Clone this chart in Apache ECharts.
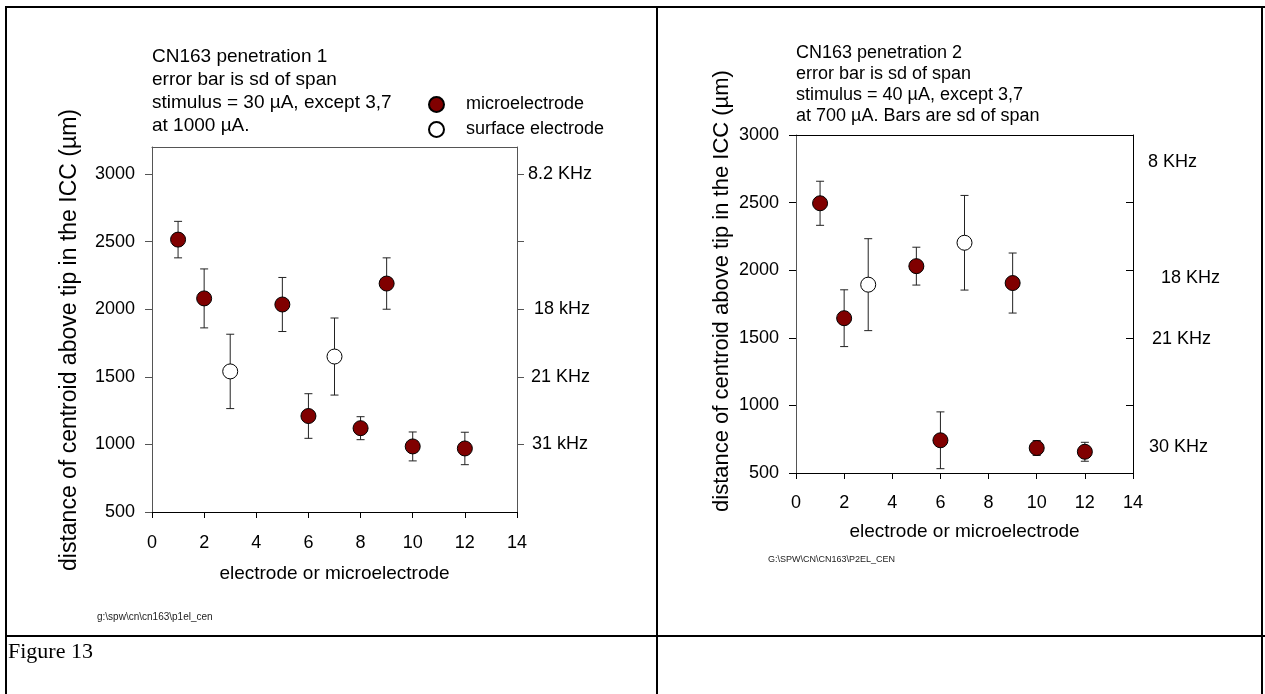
<!DOCTYPE html>
<html>
<head>
<meta charset="utf-8">
<script src="https://cdn.jsdelivr.net/npm/echarts@6/dist/echarts.min.js"></script>
<style>
  html, body { margin: 0; padding: 0; background: #fff; }
  #chart { width: 1265px; height: 694px; }
</style>
</head>
<body>
<div id="chart"></div>
<script>
// Penetration 1: electrode number, centroid distance (µm), sd of span, electrode kind
const p1Electrode = [1, 2, 3, 5, 6, 7, 8, 9, 10, 12];
const p1Mean      = [2515, 2080, 1540, 2035, 1210, 1650, 1120, 2190, 985, 970];
const p1Sd        = [135, 218, 275, 200, 165, 285, 85, 190, 107, 120];
const p1Kind      = ['micro', 'micro', 'surface', 'micro', 'micro', 'surface', 'micro', 'micro', 'micro', 'micro'];

// Penetration 2
const p2Electrode = [1, 2, 3, 5, 6, 7, 9, 10, 12];
const p2Mean      = [2495, 1645, 1893, 2030, 742, 2203, 1905, 685, 657];
const p2Sd        = [163, 210, 340, 140, 210, 350, 222, 55, 70];
const p2Kind      = ['micro', 'micro', 'surface', 'micro', 'micro', 'surface', 'micro', 'micro', 'micro'];

// Axis ticks
const xTicks        = [0, 2, 4, 6, 8, 10, 12, 14];
const p1DistTicks   = [500, 1000, 1500, 2000, 2500, 3000];
const p2DistTicks   = [500, 1000, 1500, 2000, 2500, 3000];

// Best-frequency annotations on the right-hand axes
const p1FreqTicks   = [1000, 1500, 2000, 2500, 3000];
const p1FreqAt      = [3000, 2000, 1500, 1000];
const p1FreqLabels  = ['8.2 KHz', '18 kHz', '21 KHz', '31 kHz'];
const p2FreqTicks   = [1000, 1500, 2000, 2500];
const p2FreqAt      = [2800, 1940, 1490, 690];
const p2FreqLabels  = ['8 KHz', '18 KHz', '21 KHz', '30 KHz'];

const FONT = 'Liberation Sans, Arial, sans-serif';
const MAROON = '#800000';

function pointsOf(xs, ys, kinds, kind) {
  const out = [];
  xs.forEach((x, i) => { if (kinds[i] === kind) out.push([x, ys[i]]); });
  return out;
}
function barsOf(xs, ys, sds) {
  return xs.map((x, i) => [x, ys[i] - sds[i], ys[i] + sds[i]]);
}

// vertical error bar with short caps
function renderErrorBar(params, api) {
  const x = api.value(0);
  const lo = api.coord([x, api.value(1)]);
  const hi = api.coord([x, api.value(2)]);
  const hw = 4;
  const st = { stroke: '#222', lineWidth: 1 };
  return {
    type: 'group',
    children: [
      { type: 'line', shape: { x1: lo[0], y1: lo[1], x2: hi[0], y2: hi[1] }, style: st },
      { type: 'line', shape: { x1: hi[0] - hw, y1: hi[1], x2: hi[0] + hw, y2: hi[1] }, style: st },
      { type: 'line', shape: { x1: lo[0] - hw, y1: lo[1], x2: lo[0] + hw, y2: lo[1] }, style: st }
    ]
  };
}

function freqFormatter(values, labels) {
  return function (v) {
    const i = values.indexOf(v);
    return i < 0 ? '' : '{f' + i + '|' + labels[i] + '}';
  };
}
function richPads(offsets, size) {
  const r = {};
  offsets.forEach((o, i) => { r['f' + i] = { fontFamily: FONT, fontSize: size, color: '#000', padding: [0, 0, 0, o] }; });
  return r;
}
const plain = v => String(v);

const baseLabel = { color: '#000', fontFamily: FONT, fontSize: 18, formatter: plain };

const chart = echarts.init(document.getElementById('chart'), null, { renderer: 'canvas' });

const option = {
  backgroundColor: '#fff',
  animation: false,
  grid: [
    { left: 152, top: 147, width: 365, height: 365, outerBoundsMode: 'none', containLabel: false },
    { left: 796, top: 135, width: 337, height: 338, outerBoundsMode: 'none', containLabel: false }
  ],
  legend: {
    orient: 'vertical',
    left: 423, top: 89,
    itemWidth: 15, itemHeight: 15, itemGap: 4,
    icon: 'circle',
    selectedMode: false,
    data: ['microelectrode', 'surface electrode'],
    textStyle: { color: '#000', fontFamily: FONT, fontSize: 18, lineHeight: 21, padding: [0, 0, 0, 17] }
  },
  xAxis: [
    {
      gridIndex: 0, type: 'value', position: 'bottom', min: 0, max: 14, interval: 2,
      name: 'electrode or microelectrode', nameLocation: 'middle', nameGap: 52,
      nameTextStyle: { color: '#000', fontFamily: FONT, fontSize: 19 },
      axisLine: { onZero: false, lineStyle: { color: '#000', width: 1 } },
      axisTick: { show: true, length: 6, lineStyle: { color: '#000' }, customValues: xTicks },
      axisLabel: Object.assign({ margin: 22, customValues: xTicks }, baseLabel),
      splitLine: { show: false }
    },
    {
      gridIndex: 0, type: 'value', position: 'top', min: 0, max: 14,
      axisLine: { show: true, onZero: false, lineStyle: { color: '#555', width: 1 } },
      axisTick: { show: false }, axisLabel: { show: false }, splitLine: { show: false }
    },
    {
      gridIndex: 1, type: 'value', position: 'bottom', min: 0, max: 14, interval: 2,
      name: 'electrode or microelectrode', nameLocation: 'middle', nameGap: 49,
      nameTextStyle: { color: '#000', fontFamily: FONT, fontSize: 19 },
      axisLine: { onZero: false, lineStyle: { color: '#000', width: 1 } },
      axisTick: { show: true, length: 6, lineStyle: { color: '#000' }, customValues: xTicks },
      axisLabel: Object.assign({ margin: 21, customValues: xTicks }, baseLabel),
      splitLine: { show: false }
    },
    {
      gridIndex: 1, type: 'value', position: 'top', min: 0, max: 14,
      axisLine: { show: true, onZero: false, lineStyle: { color: '#000', width: 1 } },
      axisTick: { show: false }, axisLabel: { show: false }, splitLine: { show: false }
    }
  ],
  yAxis: [
    {
      gridIndex: 0, type: 'value', position: 'left', min: 500, max: 3200, interval: 500,
      axisLine: { show: true, onZero: false, lineStyle: { color: '#555', width: 1 } },
      axisTick: { show: true, length: 7, lineStyle: { color: '#555' }, customValues: p1DistTicks },
      axisLabel: Object.assign({ margin: 17, customValues: p1DistTicks }, baseLabel),
      splitLine: { show: false }
    },
    {
      gridIndex: 0, type: 'value', position: 'right', min: 500, max: 3200,
      axisLine: { show: true, onZero: false, lineStyle: { color: '#555', width: 1 } },
      axisTick: { show: true, length: 7, lineStyle: { color: '#555' }, customValues: p1FreqTicks },
      axisLabel: {
        margin: 11, customValues: p1FreqAt,
        formatter: freqFormatter(p1FreqAt, p1FreqLabels),
        rich: richPads([0, 6, 3, 4], 18)
      },
      splitLine: { show: false }
    },
    {
      gridIndex: 1, type: 'value', position: 'left', min: 500, max: 3000, interval: 500,
      axisLine: { show: true, onZero: false, lineStyle: { color: '#555', width: 1 } },
      axisTick: { show: true, length: 7, lineStyle: { color: '#000' }, customValues: p2DistTicks },
      axisLabel: Object.assign({ margin: 17, customValues: p2DistTicks }, baseLabel),
      splitLine: { show: false }
    },
    {
      gridIndex: 1, type: 'value', position: 'right', min: 500, max: 3000,
      axisLine: { show: true, onZero: false, lineStyle: { color: '#000', width: 1 } },
      axisTick: { show: true, inside: true, length: 7, lineStyle: { color: '#000' }, customValues: p2FreqTicks },
      axisLabel: {
        margin: 15, customValues: p2FreqAt,
        formatter: freqFormatter(p2FreqAt, p2FreqLabels),
        rich: richPads([0, 13, 4, 1], 18)
      },
      splitLine: { show: false }
    }
  ],
  series: [
    {
      type: 'custom', name: 'sd p1', xAxisIndex: 0, yAxisIndex: 0, z: 2,
      renderItem: renderErrorBar, data: barsOf(p1Electrode, p1Mean, p1Sd), silent: true
    },
    {
      type: 'scatter', name: 'microelectrode', xAxisIndex: 0, yAxisIndex: 0, z: 3,
      symbol: 'circle', symbolSize: 15,
      itemStyle: { color: MAROON, borderColor: '#000', borderWidth: 1, opacity: 1 },
      data: pointsOf(p1Electrode, p1Mean, p1Kind, 'micro')
    },
    {
      type: 'scatter', name: 'surface electrode', xAxisIndex: 0, yAxisIndex: 0, z: 3,
      symbol: 'circle', symbolSize: 15,
      itemStyle: { color: '#fff', borderColor: '#000', borderWidth: 1, opacity: 1 },
      data: pointsOf(p1Electrode, p1Mean, p1Kind, 'surface')
    },
    {
      type: 'custom', name: 'sd p2', xAxisIndex: 2, yAxisIndex: 2, z: 2,
      renderItem: renderErrorBar, data: barsOf(p2Electrode, p2Mean, p2Sd), silent: true
    },
    {
      type: 'scatter', name: 'microelectrode', xAxisIndex: 2, yAxisIndex: 2, z: 3,
      symbol: 'circle', symbolSize: 15,
      itemStyle: { color: MAROON, borderColor: '#000', borderWidth: 1, opacity: 1 },
      data: pointsOf(p2Electrode, p2Mean, p2Kind, 'micro')
    },
    {
      type: 'scatter', name: 'surface electrode', xAxisIndex: 2, yAxisIndex: 2, z: 3,
      symbol: 'circle', symbolSize: 15,
      itemStyle: { color: '#fff', borderColor: '#000', borderWidth: 1, opacity: 1 },
      data: pointsOf(p2Electrode, p2Mean, p2Kind, 'surface')
    }
  ],
  graphic: [
    // table rules around the two panels
    { type: 'line', shape: { x1: 5, y1: 7, x2: 1265, y2: 7 }, style: { stroke: '#000', lineWidth: 2 } },
    { type: 'line', shape: { x1: 6, y1: 6, x2: 6, y2: 694 }, style: { stroke: '#000', lineWidth: 2 } },
    { type: 'line', shape: { x1: 657, y1: 6, x2: 657, y2: 694 }, style: { stroke: '#000', lineWidth: 2 } },
    { type: 'line', shape: { x1: 1262, y1: 6, x2: 1262, y2: 694 }, style: { stroke: '#000', lineWidth: 2 } },
    { type: 'line', shape: { x1: 5, y1: 636, x2: 1265, y2: 636 }, style: { stroke: '#000', lineWidth: 2 } },
    {
      type: 'text', left: 8, top: 641,
      style: { text: 'Figure 13', fontFamily: 'Liberation Serif, Times New Roman, serif', fontSize: 22, fill: '#000' }
    },
    // panel notes
    {
      type: 'text', left: 152, top: 45,
      style: {
        text: 'CN163 penetration 1\nerror bar is sd of span\nstimulus = 30 µA, except 3,7\nat 1000 µA.',
        fontFamily: FONT, fontSize: 19, lineHeight: 23, fill: '#000'
      }
    },
    {
      type: 'text', left: 796, top: 43,
      style: {
        text: 'CN163 penetration 2\nerror bar is sd of span\nstimulus = 40 µA, except 3,7\nat 700 µA. Bars are sd of span',
        fontFamily: FONT, fontSize: 18, lineHeight: 21, fill: '#000'
      }
    },
    // vertical axis titles
    {
      type: 'text', x: 70, y: 340, rotation: Math.PI / 2,
      style: {
        text: 'distance of centroid above tip in the ICC (µm)', fontFamily: FONT, fontSize: 23,
        fill: '#000', textAlign: 'center', textVerticalAlign: 'middle'
      }
    },
    {
      type: 'text', x: 722, y: 291, rotation: Math.PI / 2,
      style: {
        text: 'distance of centroid above tip in the ICC (µm)', fontFamily: FONT, fontSize: 22,
        fill: '#000', textAlign: 'center', textVerticalAlign: 'middle'
      }
    },
    // file paths
    {
      type: 'text', left: 97, top: 612,
      style: { text: 'g:\\spw\\cn\\cn163\\p1el_cen', fontFamily: FONT, fontSize: 10, fill: '#222' }
    },
    {
      type: 'text', left: 768, top: 555,
      style: { text: 'G:\\SPW\\CN\\CN163\\P2EL_CEN', fontFamily: FONT, fontSize: 9, fill: '#222' }
    }
  ]
};

chart.setOption(option);
</script>
</body>
</html>
